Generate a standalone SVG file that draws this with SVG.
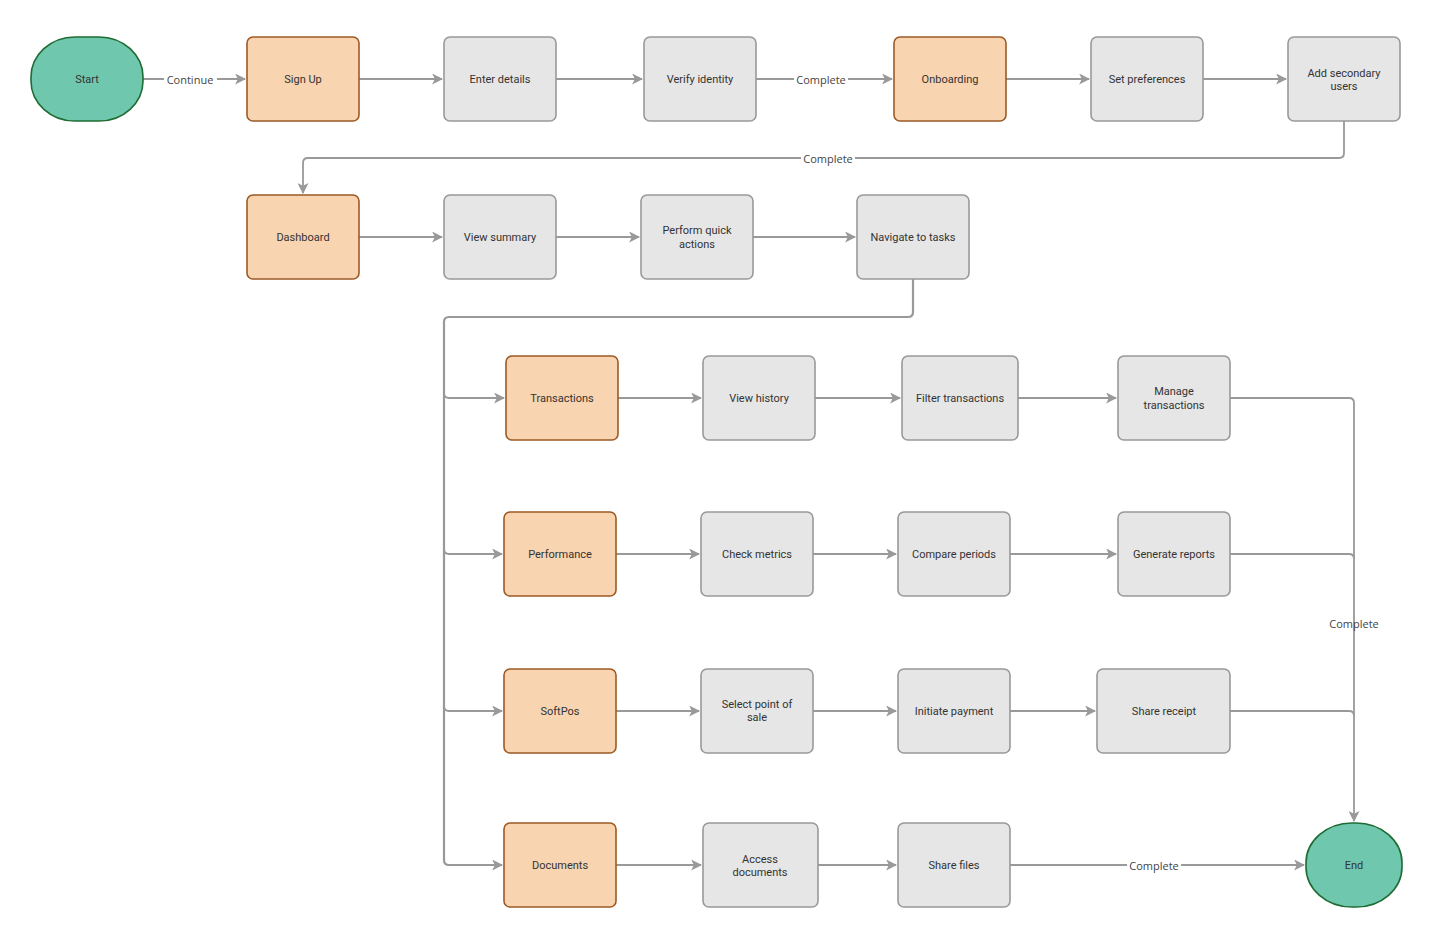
<svg xmlns="http://www.w3.org/2000/svg" width="1453" height="926" viewBox="0 0 1453 926">
<defs>
<marker id="arr" viewBox="0 0 10 10" refX="9" refY="5" markerWidth="11" markerHeight="11" markerUnits="userSpaceOnUse" orient="auto">
<path d="M0,0 L10,5 L0,10 L2.5,5 Z" fill="#999"/>
</marker>
<style>
.g{fill:#e6e6e6;stroke:#999;stroke-width:1.6}
.o{fill:#f8d4b0;stroke:#9c5a25;stroke-width:1.6}
.t{fill:#6fc8ae;stroke:#1f6b34;stroke-width:1.6}
.lbl{font-family:Roboto,"Liberation Sans",sans-serif;font-size:11px;fill:#333;text-anchor:middle;dominant-baseline:central}
.el{font-family:"Open Sans","Liberation Sans",sans-serif;font-size:11px;fill:#444;text-anchor:middle;dominant-baseline:central}
.c{fill:none;stroke:#999;stroke-width:1.8}
.bg{fill:#fff}
</style>
</defs>
<rect width="1453" height="926" fill="#fff"/>
<g id="connectors">
<path class="c" d="M143,79 H245" marker-end="url(#arr)"/>
<path class="c" d="M359,79 H442" marker-end="url(#arr)"/>
<path class="c" d="M556,79 H642" marker-end="url(#arr)"/>
<path class="c" d="M756,79 H892" marker-end="url(#arr)"/>
<path class="c" d="M1006,79 H1089" marker-end="url(#arr)"/>
<path class="c" d="M1203,79 H1286" marker-end="url(#arr)"/>
<path class="c" d="M1344,121 V153 Q1344,158 1339,158 H308 Q303,158 303,163 V193" marker-end="url(#arr)"/>
<path class="c" d="M359,237 H442" marker-end="url(#arr)"/>
<path class="c" d="M556,237 H639" marker-end="url(#arr)"/>
<path class="c" d="M753,237 H855" marker-end="url(#arr)"/>
<path class="c" style="stroke-width:2.2" d="M913,279 V312 Q913,317 908,317 H449 Q444,317 444,322 V860 Q444,865 449,865 H502" marker-end="url(#arr)"/>
<path class="c" d="M444,393 Q444,398 449,398 H504" marker-end="url(#arr)"/>
<path class="c" d="M444,549 Q444,554 449,554 H502" marker-end="url(#arr)"/>
<path class="c" d="M444,706 Q444,711 449,711 H502" marker-end="url(#arr)"/>
<path class="c" d="M618,398 H701" marker-end="url(#arr)"/>
<path class="c" d="M815,398 H900" marker-end="url(#arr)"/>
<path class="c" d="M1018,398 H1116" marker-end="url(#arr)"/>
<path class="c" d="M616,554 H699" marker-end="url(#arr)"/>
<path class="c" d="M813,554 H896" marker-end="url(#arr)"/>
<path class="c" d="M1010,554 H1116" marker-end="url(#arr)"/>
<path class="c" d="M616,711 H699" marker-end="url(#arr)"/>
<path class="c" d="M813,711 H896" marker-end="url(#arr)"/>
<path class="c" d="M1010,711 H1095" marker-end="url(#arr)"/>
<path class="c" d="M616,865 H701" marker-end="url(#arr)"/>
<path class="c" d="M818,865 H896" marker-end="url(#arr)"/>
<path class="c" d="M1010,865 H1304" marker-end="url(#arr)"/>
<path class="c" d="M1230,398 H1349 Q1354,398 1354,403 V821" marker-end="url(#arr)"/>
<path class="c" d="M1230,554 H1349 Q1354,554 1354,559"/>
<path class="c" d="M1230,711 H1349 Q1354,711 1354,716"/>
<rect class="bg" x="164" y="71" width="53" height="16"/>
<text class="el" x="190" y="79">Continue</text>
<rect class="bg" x="794" y="71" width="54" height="16"/>
<text class="el" x="821" y="79">Complete</text>
<rect class="bg" x="801" y="150" width="54" height="16"/>
<text class="el" x="828" y="158">Complete</text>
<text class="el" x="1354" y="623">Complete</text>
<rect class="bg" x="1127" y="857" width="54" height="16"/>
<text class="el" x="1154" y="865">Complete</text>
</g>
<g id="start"><rect class="t" x="31" y="37" width="112" height="84" rx="44" ry="40"/><text class="lbl" x="87" y="79">Start</text></g>
<g id="signup"><rect class="o" x="247" y="37" width="112" height="84" rx="6"/><text class="lbl" x="303" y="79">Sign Up</text></g>
<g id="enter-details"><rect class="g" x="444" y="37" width="112" height="84" rx="6"/><text class="lbl" x="500" y="79">Enter details</text></g>
<g id="verify-identity"><rect class="g" x="644" y="37" width="112" height="84" rx="6"/><text class="lbl" x="700" y="79">Verify identity</text></g>
<g id="onboarding"><rect class="o" x="894" y="37" width="112" height="84" rx="6"/><text class="lbl" x="950" y="79">Onboarding</text></g>
<g id="set-preferences"><rect class="g" x="1091" y="37" width="112" height="84" rx="6"/><text class="lbl" x="1147" y="79">Set preferences</text></g>
<g id="add-secondary"><rect class="g" x="1288" y="37" width="112" height="84" rx="6"/><text class="lbl" x="1344" y="73">Add secondary</text><text class="lbl" x="1344" y="86">users</text></g>
<g id="dashboard"><rect class="o" x="247" y="195" width="112" height="84" rx="6"/><text class="lbl" x="303" y="237">Dashboard</text></g>
<g id="view-summary"><rect class="g" x="444" y="195" width="112" height="84" rx="6"/><text class="lbl" x="500" y="237">View summary</text></g>
<g id="quick-actions"><rect class="g" x="641" y="195" width="112" height="84" rx="6"/><text class="lbl" x="697" y="230">Perform quick</text><text class="lbl" x="697" y="244">actions</text></g>
<g id="navigate"><rect class="g" x="857" y="195" width="112" height="84" rx="6"/><text class="lbl" x="913" y="237">Navigate to tasks</text></g>
<g id="transactions"><rect class="o" x="506" y="356" width="112" height="84" rx="6"/><text class="lbl" x="562" y="398">Transactions</text></g>
<g id="view-history"><rect class="g" x="703" y="356" width="112" height="84" rx="6"/><text class="lbl" x="759" y="398">View history</text></g>
<g id="filter-transactions"><rect class="g" x="902" y="356" width="116" height="84" rx="6"/><text class="lbl" x="960" y="398">Filter transactions</text></g>
<g id="manage-transactions"><rect class="g" x="1118" y="356" width="112" height="84" rx="6"/><text class="lbl" x="1174" y="391">Manage</text><text class="lbl" x="1174" y="405">transactions</text></g>
<g id="performance"><rect class="o" x="504" y="512" width="112" height="84" rx="6"/><text class="lbl" x="560" y="554">Performance</text></g>
<g id="check-metrics"><rect class="g" x="701" y="512" width="112" height="84" rx="6"/><text class="lbl" x="757" y="554">Check metrics</text></g>
<g id="compare-periods"><rect class="g" x="898" y="512" width="112" height="84" rx="6"/><text class="lbl" x="954" y="554">Compare periods</text></g>
<g id="generate-reports"><rect class="g" x="1118" y="512" width="112" height="84" rx="6"/><text class="lbl" x="1174" y="554">Generate reports</text></g>
<g id="softpos"><rect class="o" x="504" y="669" width="112" height="84" rx="6"/><text class="lbl" x="560" y="711">SoftPos</text></g>
<g id="select-pos"><rect class="g" x="701" y="669" width="112" height="84" rx="6"/><text class="lbl" x="757" y="704">Select point of</text><text class="lbl" x="757" y="717">sale</text></g>
<g id="initiate-payment"><rect class="g" x="898" y="669" width="112" height="84" rx="6"/><text class="lbl" x="954" y="711">Initiate payment</text></g>
<g id="share-receipt"><rect class="g" x="1097" y="669" width="133" height="84" rx="6"/><text class="lbl" x="1164" y="711">Share receipt</text></g>
<g id="documents"><rect class="o" x="504" y="823" width="112" height="84" rx="6"/><text class="lbl" x="560" y="865">Documents</text></g>
<g id="access-documents"><rect class="g" x="703" y="823" width="115" height="84" rx="6"/><text class="lbl" x="760" y="859">Access</text><text class="lbl" x="760" y="872">documents</text></g>
<g id="share-files"><rect class="g" x="898" y="823" width="112" height="84" rx="6"/><text class="lbl" x="954" y="865">Share files</text></g>
<g id="end"><rect class="t" x="1306" y="823" width="96" height="84" rx="46" ry="40"/><text class="lbl" x="1354" y="865">End</text></g>
</svg>
